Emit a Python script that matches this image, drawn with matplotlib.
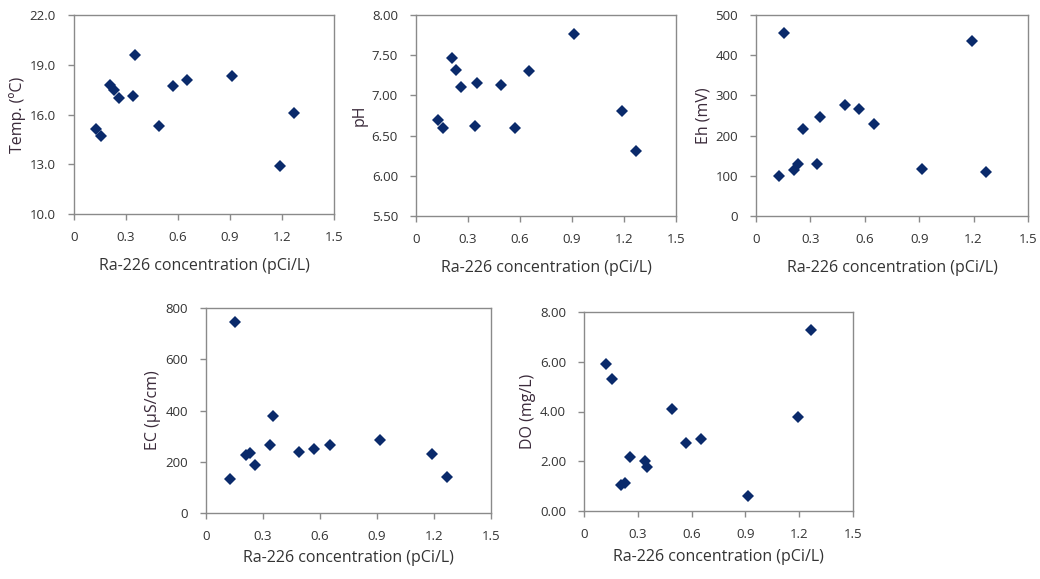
import matplotlib.pyplot as plt
from matplotlib.ticker import FormatStrFormatter

# Ra-226 concentration (pCi/L), same samples in every panel
ra226 = [0.125, 0.154, 0.209, 0.229, 0.259, 0.338, 0.351, 0.492, 0.570, 0.653, 0.914, 1.191, 1.268]

temp = [15.1, 14.7, 17.8, 17.5, 17.0, 17.1, 19.6, 15.3, 17.7, 18.1, 18.3, 12.9, 16.1]
ph = [6.70, 6.60, 7.47, 7.31, 7.10, 6.62, 7.15, 7.13, 6.60, 7.30, 7.76, 6.80, 6.31]
eh = [100, 455, 114, 129, 216, 129, 247, 275, 265, 230, 117, 436, 109]
ec = [131, 744, 227, 233, 187, 264, 380, 238, 249, 267, 284, 232, 139]
do = [5.91, 5.29, 1.03, 1.13, 2.17, 2.00, 1.76, 4.09, 2.73, 2.88, 0.61, 3.79, 7.27]

x_ticks = [0, 0.3, 0.6, 0.9, 1.2, 1.5]
x_tick_labels = ["0", "0.3", "0.6", "0.9", "1.2", "1.5"]
x_label = "Ra-226 concentration (pCi/L)"

plt.rcParams['font.family'] = ['Open Sans', 'DejaVu Sans']

fig = plt.figure(figsize=(10.4, 5.79), dpi=100)

panels = [
  # values, ylabel, ylim, yticks, fmt, rect(left, top, right, bottom in px), xlabel pad
  (temp, "Temp. (ºC)", (10, 22), [10, 13, 16, 19, 22], "%.1f", (74, 15, 334, 214), 10),
  (ph, "pH", (5.5, 8.0), [5.5, 6.0, 6.5, 7.0, 7.5, 8.0], "%.2f", (416, 15, 676, 216), 10),
  (eh, "Eh (mV)", (0, 500), [0, 100, 200, 300, 400, 500], "%d", (756, 15, 1028, 216), 10),
  (ec, "EC (μS/cm)", (0, 800), [0, 200, 400, 600, 800], "%d", (206, 308, 491, 513), 5),
  (do, "DO (mg/L)", (0, 8), [0, 2, 4, 6, 8], "%.2f", (584, 312, 853, 511), 6),
]

W, H = 1040, 579
text_color = "#333333"
for vals, ylab, ylim, yticks, fmt, (l, t, r, b), xpad in panels:
  ax = fig.add_axes([l / W, 1 - b / H, (r - l) / W, (b - t) / H])
  ax.plot(ra226, vals, linestyle="none", marker="D", markersize=6.5,
          color="#0a2a6b", markeredgewidth=0)
  ax.set_xlim(0, 1.5)
  ax.set_ylim(*ylim)
  ax.set_xticks(x_ticks)
  ax.set_xticklabels(x_tick_labels)
  ax.set_yticks(yticks)
  ax.yaxis.set_major_formatter(FormatStrFormatter(fmt))
  for s in ax.spines.values():
    s.set_color("#8a8a8a")
    s.set_linewidth(1.0)
  ax.tick_params(axis="both", direction="out", length=4, width=1, color="#8a8a8a",
                 labelsize=9.5, labelcolor=text_color)
  ax.tick_params(axis="x", pad=8)
  ax.tick_params(axis="y", pad=9)
  ax.set_xlabel(x_label, fontsize=11.5, color=text_color, labelpad=xpad)
  ax.set_ylabel(ylab, fontsize=11.5, color="#3a2a3a", labelpad=3)

fig.savefig("out.png", dpi=100)
